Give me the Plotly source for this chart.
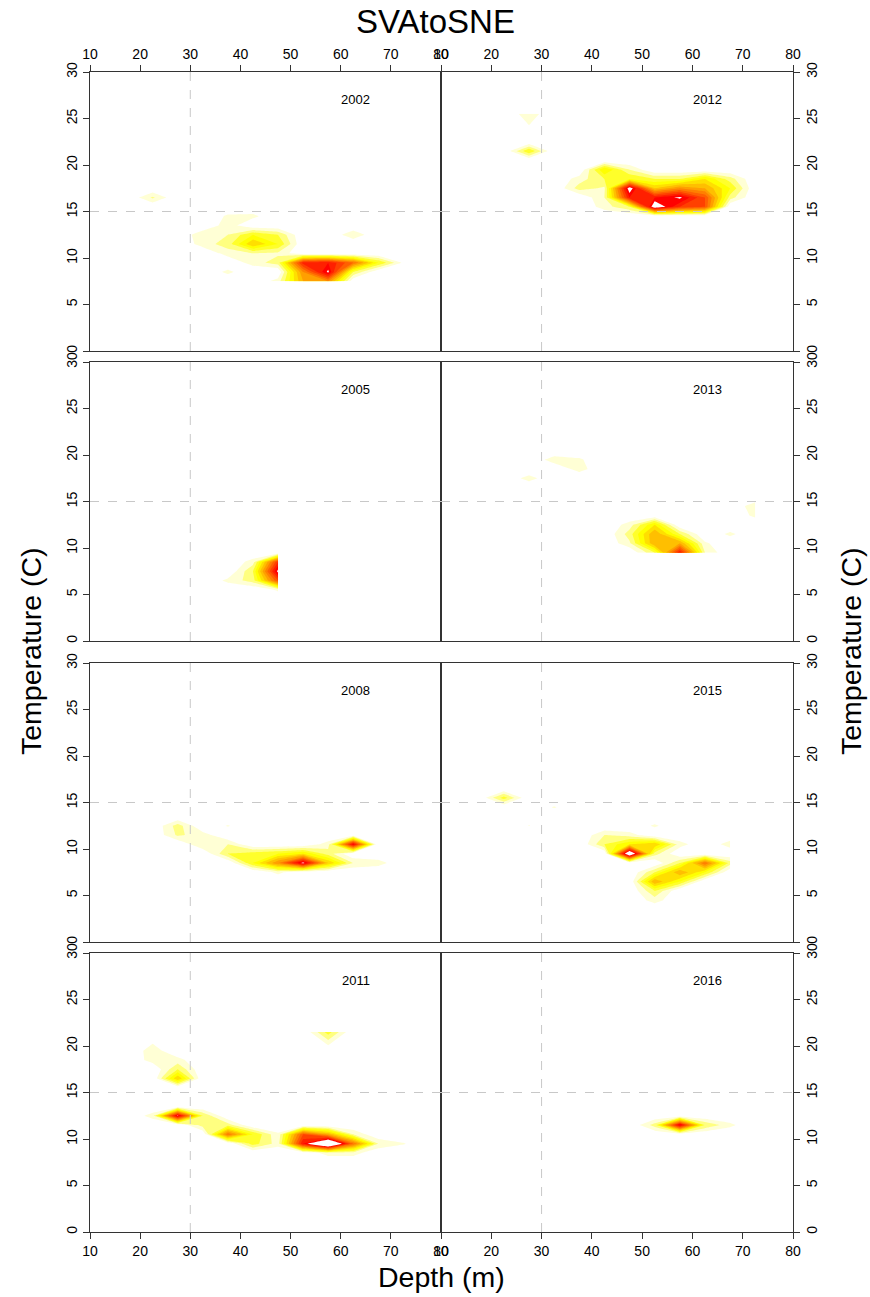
import plotly.graph_objects as go

# ---- panel layout: (year, column, row) ----
PANEL_YEARS = [2002, 2012, 2005, 2013, 2008, 2015, 2011, 2016]

# default sampling grid: depth bins (m) and temperature bins (C)
DEPTH_COLS = [12.5, 17.5, 22.5, 27.5, 32.5, 37.5, 42.5, 47.5,
              52.5, 57.5, 62.5, 67.5, 72.5, 77.5]
TEMP_ROWS = [t + 0.5 for t in range(30)]

# years whose observed bins differ from the default grid
DEPTH_COLS_2005 = [12.5, 17.5, 22.5, 27.5, 32.5, 37.5, 42.5, 47.5]
DEPTH_COLS_2013 = [12.5, 17.5, 22.5, 27.5, 32.5, 37.5, 42.5, 47.5,
                   52.5, 57.5, 62.5, 67.5, 72.5]
DEPTH_COLS_2015 = [12.5, 17.5, 22.5, 27.5, 32.5, 37.5, 42.5, 47.5,
                   52.5, 57.5, 62.5, 67.5]
TEMP_ROWS_2002 = [t + 0.5 for t in range(7, 30)]
TEMP_ROWS_2011 = [t + 0.5 for t in range(20)] + [21.5]
TEMP_ROWS_2012 = [t + 0.5 for t in range(23)] + [25.5]
TEMP_ROWS_2013 = [t + 0.5 for t in range(9, 30)]

# catch density per (depth, temperature) bin
CATCH_2002 = [
    (22.5, 16.5, 2.2),
    (32.5, 12.5, 1.8), (32.5, 11.5, 1.5), (37.5, 13.5, 1.6), (37.5, 14.5, 1.2),
    (42.5, 14.5, 1.3), (37.5, 12.5, 2.0), (37.5, 11.5, 2.5),
    (42.5, 12.5, 4.0), (42.5, 11.5, 6.0), (47.5, 12.5, 3.0), (47.5, 11.5, 4.0),
    (37.5, 10.5, 1.5), (42.5, 10.5, 2.0), (47.5, 10.5, 1.8), (42.5, 9.5, 1.5),
    (37.5, 8.5, 1.3), (47.5, 9.5, 2.5),
    (52.5, 9.5, 11.5), (57.5, 9.5, 12.0), (57.5, 8.5, 13.3), (62.5, 9.5, 9.0),
    (67.5, 9.5, 4.0), (72.5, 9.5, 0.8), (52.5, 8.5, 8.0), (62.5, 8.5, 3.0),
    (47.5, 7.5, 1.5), (52.5, 7.5, 7.0), (57.5, 7.5, 8.0),
    (62.5, 12.5, 1.8),
]
CATCH_2012 = [
    (27.5, 25.5, 1.7), (27.5, 21.5, 4.0),
    (37.5, 17.5, 2.5), (37.5, 18.5, 1.5),
    (42.5, 19.5, 5.0), (42.5, 18.5, 3.0), (47.5, 19.5, 2.0),
    (42.5, 17.5, 1.8), (42.5, 16.5, 2.0), (42.5, 15.5, 1.5),
    (47.5, 17.5, 14.0), (47.5, 16.5, 12.0), (47.5, 18.5, 4.0), (47.5, 15.5, 3.0),
    (52.5, 15.5, 14.5), (52.5, 16.5, 12.0), (52.5, 17.5, 6.0), (52.5, 18.5, 3.0),
    (57.5, 16.5, 13.3), (57.5, 15.5, 11.0), (57.5, 17.5, 8.0), (57.5, 18.5, 3.0),
    (62.5, 15.5, 10.0), (62.5, 16.5, 10.0), (62.5, 17.5, 7.0), (62.5, 18.5, 5.0),
    (67.5, 17.5, 4.0), (67.5, 18.5, 2.5), (67.5, 16.5, 2.5),
]
CATCH_2005 = [
    (47.5, 8.5, 11.0), (47.5, 7.5, 13.5), (47.5, 6.5, 10.0), (47.5, 5.5, 1.2),
    (42.5, 8.5, 1.5), (42.5, 7.5, 3.0), (42.5, 6.5, 2.5), (37.5, 6.5, 1.3),
]
CATCH_2013 = [
    (32.5, 19.5, 1.6), (37.5, 18.5, 1.5), (37.5, 19.5, 1.2),
    (27.5, 17.5, 1.5),
    (72.5, 14.5, 1.7), (72.5, 13.5, 1.3),
    (67.5, 11.5, 1.3),
    (47.5, 12.5, 1.5), (47.5, 11.5, 2.5), (47.5, 10.5, 1.8),
    (52.5, 12.5, 5.0), (52.5, 11.5, 7.0), (52.5, 10.5, 7.0), (52.5, 9.5, 3.0),
    (57.5, 11.5, 3.0), (57.5, 10.5, 7.0), (57.5, 9.5, 12.0),
    (62.5, 9.5, 2.0), (62.5, 10.5, 1.2),
]
CATCH_2008 = [
    (27.5, 12.5, 2.5), (27.5, 11.5, 2.2), (32.5, 11.5, 1.5),
    (37.5, 12.5, 1.1),
    (32.5, 10.5, 2.0), (37.5, 10.5, 2.0), (37.5, 9.5, 3.0),
    (42.5, 9.5, 3.5), (42.5, 8.5, 4.0), (47.5, 9.5, 4.0), (47.5, 8.5, 8.0),
    (47.5, 7.5, 1.3), (52.5, 9.5, 5.0), (52.5, 8.5, 13.5),
    (57.5, 8.5, 6.0), (57.5, 9.5, 2.5), (57.5, 10.5, 1.5),
    (62.5, 8.5, 2.0), (67.5, 8.5, 1.5),
    (62.5, 10.5, 12.8),
]
CATCH_2015 = [
    (22.5, 15.5, 3.5), (32.5, 14.5, 1.1), (27.5, 12.5, 1.05), (52.5, 12.5, 1.2),
    (42.5, 11.5, 2.0), (42.5, 10.5, 3.0), (47.5, 11.5, 1.5), (47.5, 10.5, 5.0),
    (47.5, 9.5, 16.0), (52.5, 10.5, 6.0), (52.5, 9.5, 2.5), (57.5, 10.5, 1.5),
    (67.5, 10.5, 1.6),
    (52.5, 7.5, 3.0), (52.5, 6.5, 7.0), (52.5, 5.5, 3.0), (52.5, 4.5, 1.5),
    (57.5, 8.5, 3.0), (57.5, 7.5, 7.0), (57.5, 6.5, 4.0),
    (62.5, 8.5, 9.0), (62.5, 7.5, 4.0), (67.5, 8.5, 2.5),
]
CATCH_2011 = [
    (22.5, 19.5, 1.6), (22.5, 18.5, 1.5), (27.5, 18.5, 1.4),
    (27.5, 17.5, 3.0), (27.5, 16.5, 6.0),
    (57.5, 21.5, 3.5),
    (27.5, 12.5, 13.3), (22.5, 12.5, 1.5), (32.5, 12.5, 3.0), (32.5, 11.5, 2.5),
    (37.5, 11.5, 2.5), (37.5, 10.5, 9.0), (42.5, 10.5, 4.0), (42.5, 9.5, 3.5),
    (47.5, 9.5, 1.5), (47.5, 10.5, 1.2),
    (52.5, 10.5, 10.0), (52.5, 9.5, 12.0), (57.5, 9.5, 18.0), (57.5, 10.5, 7.0),
    (62.5, 9.5, 9.0), (62.5, 10.5, 2.0), (67.5, 9.5, 2.0),
    (57.5, 8.5, 1.5), (62.5, 8.5, 1.5),
    (72.5, 9.5, 1.1),
]
CATCH_2016 = [
    (52.5, 11.5, 2.5), (57.5, 11.5, 13.0), (62.5, 11.5, 3.0), (67.5, 11.5, 1.3),
]

PANELS = {
    2002: (DEPTH_COLS, TEMP_ROWS_2002, CATCH_2002),
    2012: (DEPTH_COLS, TEMP_ROWS_2012, CATCH_2012),
    2005: (DEPTH_COLS_2005, TEMP_ROWS, CATCH_2005),
    2013: (DEPTH_COLS_2013, TEMP_ROWS_2013, CATCH_2013),
    2008: (DEPTH_COLS, TEMP_ROWS, CATCH_2008),
    2015: (DEPTH_COLS_2015, TEMP_ROWS, CATCH_2015),
    2011: (DEPTH_COLS, TEMP_ROWS_2011, CATCH_2011),
    2016: (DEPTH_COLS, TEMP_ROWS, CATCH_2016),
}

X_TICKS = [10, 20, 30, 40, 50, 60, 70, 80]
Y_TICKS = [0, 5, 10, 15, 20, 25, 30]

# reversed heat palette, white below the first level and above the last
HEAT = ["#FFFFFF", "#FFFFD5", "#FFFF80", "#FFFF2A", "#FFFF00", "#FFDF00",
        "#FFBF00", "#FF9F00", "#FF8000", "#FF6000", "#FF4000", "#FF2000",
        "#FF0000", "#FFFFFF"]
N_LEVELS = len(HEAT) - 1
COLORSCALE = [[i / N_LEVELS, c] for i, c in enumerate(HEAT)]

W, H = 870, 1297
COL_PX = [(90, 441), (441, 793)]
ROW_PX = [(72, 351), (362, 641), (663, 942), (953, 1232)]
FONT = "Liberation Sans, Arial, sans-serif"
TICK_FONT = dict(size=14, family=FONT, color="black")


def grid(cols, rows, cells):
    z = [[0.0] * len(cols) for _ in rows]
    for d, t, v in cells:
        z[rows.index(t)][cols.index(d)] = v
    return z


fig = go.Figure()
layout = dict(
    template="none",
    width=W, height=H, margin=dict(l=0, r=0, t=0, b=0, pad=0),
    paper_bgcolor="white", plot_bgcolor="white", showlegend=False,
    font=dict(family=FONT, size=13, color="black"),
)
shapes, annotations = [], []

for i, year in enumerate(PANEL_YEARS):
    col, row = i % 2, i // 2
    n = i + 1
    xa, ya = f"xaxis{n}" if n > 1 else "xaxis", f"yaxis{n}" if n > 1 else "yaxis"
    xr, yr = f"x{n}" if n > 1 else "x", f"y{n}" if n > 1 else "y"

    cols, rows, cells = PANELS[year]
    fig.add_trace(go.Contour(
        x=cols, y=rows, z=grid(cols, rows, cells),
        xaxis=xr, yaxis=yr,
        autocontour=False,
        contours=dict(start=1, end=N_LEVELS, size=1, coloring="fill",
                      showlines=False),
        line=dict(width=0, smoothing=0),
        colorscale=COLORSCALE, showscale=False, hoverinfo="skip",
    ))

    x0, x1 = COL_PX[col]
    top, bot = ROW_PX[row]
    xdom = [x0 / W, x1 / W]
    ydom = [1 - bot / H, 1 - top / H]

    xaxis = dict(domain=xdom, range=[10, 80], anchor=yr, showgrid=False,
                 zeroline=False, showline=True, linecolor="#333333",
                 linewidth=1, mirror=True, tickvals=X_TICKS, automargin=False,
                 tickfont=TICK_FONT)
    if row == 0:
        xaxis.update(side="top", ticks="outside", ticklen=6,
                     tickcolor="#333333", showticklabels=True)
    elif row == 3:
        xaxis.update(side="bottom", ticks="outside", ticklen=6,
                     tickcolor="#333333", showticklabels=True)
    else:
        xaxis.update(ticks="", showticklabels=False)

    yaxis = dict(domain=ydom, range=[0, 30], anchor=xr, showgrid=False,
                 zeroline=False, showline=True, linecolor="#333333",
                 linewidth=1, mirror=True, tickvals=Y_TICKS, automargin=False,
                 ticks="outside", ticklen=6, tickcolor="#333333",
                 tickangle=-90, tickfont=TICK_FONT,
                 side="left" if col == 0 else "right")
    layout[xa] = xaxis
    layout[ya] = yaxis

    # reference lines at 30 m and 15 C
    dash = dict(color="#C8C8C8", width=1, dash="dash")
    shapes.append(dict(type="line", xref=xr, yref=yr, x0=30, x1=30, y0=0,
                       y1=30, line=dash, layer="above"))
    shapes.append(dict(type="line", xref=xr, yref=yr, x0=10, x1=80, y0=15,
                       y1=15, line=dash, layer="above"))

    annotations.append(dict(text=str(year), xref=xr, yref=yr, x=63, y=27,
                            xanchor="center", yanchor="middle",
                            showarrow=False, font=dict(size=13, family=FONT)))

centered = dict(xref="paper", yref="paper", xanchor="center",
                yanchor="middle", showarrow=False)
annotations += [
    dict(text="SVAtoSNE", x=435 / W, y=1 - 21 / H,
         font=dict(size=33, family=FONT), **centered),
    dict(text="Depth (m)", x=441 / W, y=1 - 1277 / H,
         font=dict(size=28.5, family=FONT), **centered),
    dict(text="Temperature (C)", x=31 / W, y=1 - 652 / H, textangle=-90,
         font=dict(size=28.5, family=FONT), **centered),
    dict(text="Temperature (C)", x=851 / W, y=1 - 652 / H, textangle=-90,
         font=dict(size=28.5, family=FONT), **centered),
]

layout["shapes"] = shapes
layout["annotations"] = annotations
fig.update_layout(**layout)
fig.write_html("out.html")
